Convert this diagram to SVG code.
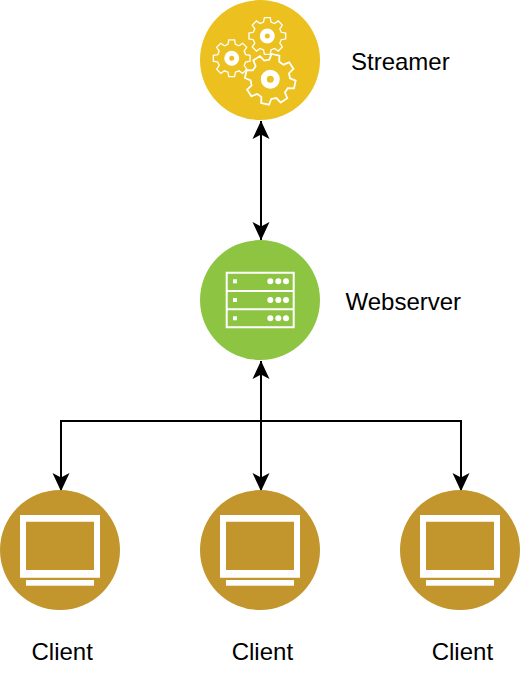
<svg xmlns="http://www.w3.org/2000/svg" width="522" height="674" viewBox="0 0 522 674">
<style>
.lbl{font-family:"Liberation Sans",Arial,sans-serif;font-size:24px;fill:#000}
.edge{fill:none;stroke:#000;stroke-width:2}
.gear{fill:none;stroke:#fff;stroke-width:1.4;stroke-linejoin:miter}
.ln{fill:none;stroke:#fff}
.w{fill:#fff}
</style>
<defs>
<marker id="ah" viewBox="0 0 20 20" refX="18.500" refY="10" markerWidth="20" markerHeight="20" markerUnits="userSpaceOnUse" orient="auto-start-reverse">
<path d="M0.500 1.500L18.800 10L0.500 18.500L5 10Z" fill="#000"/>
</marker>
<path id="gearShape" d="M19.75 3.13L14.97 4.01L13.42 7.75L16.18 11.76L11.76 16.18L7.75 13.42L4.01 14.97L3.13 19.75L-3.13 19.75L-4.01 14.97L-7.75 13.42L-11.76 16.18L-16.18 11.76L-13.42 7.75L-14.97 4.01L-19.75 3.13L-19.75 -3.13L-14.97 -4.01L-13.42 -7.75L-16.18 -11.76L-11.76 -16.18L-7.75 -13.42L-4.01 -14.97L-3.13 -19.75L3.13 -19.75L4.01 -14.97L7.75 -13.42L11.76 -16.18L16.18 -11.76L13.42 -7.75L14.97 -4.01L19.75 -3.13Z"/>
<g id="monitor">
<path class="w" fill-rule="evenodd" d="M-40 -35H40V27.7H-40ZM-34 -28.3V20H34V-28.3Z"/>
<rect class="w" x="-34" y="30" width="68" height="5.7"/>
</g>
<g id="row">
<rect class="w" x="233" y="-2" width="4" height="4"/>
<circle class="w" cx="270.3" r="3"/><circle class="w" cx="278.3" r="3"/><circle class="w" cx="286" r="3"/>
</g>
</defs>
<g id="connectors">
<path class="edge" d="M261 121V240" marker-start="url(#ah)" marker-end="url(#ah)"/>
<path class="edge" d="M261 361V491" marker-start="url(#ah)" marker-end="url(#ah)"/>
<path class="edge" d="M261 421H61V491" marker-end="url(#ah)"/>
<path class="edge" d="M261 421H461V491" marker-end="url(#ah)"/>
</g>
<g id="streamer">
<circle cx="260" cy="60" r="60" fill="#ebc01f"/>
<g transform="translate(231.7 58.3) scale(.93)"><use href="#gearShape" class="gear"/></g>
<g transform="translate(267.3 36) scale(.93)"><use href="#gearShape" class="gear"/></g>
<g transform="translate(270.3 79.3) rotate(12) scale(1.27)"><use href="#gearShape" class="gear"/></g>
<circle cx="231.7" cy="58.3" r="5" fill="none" stroke="#fff" stroke-width="5"/>
<circle cx="267.3" cy="36" r="5" fill="none" stroke="#fff" stroke-width="5"/>
<circle cx="270.3" cy="79.3" r="6.5" fill="none" stroke="#fff" stroke-width="6"/>
<text class="lbl" x="351" y="70">Streamer</text>
</g>
<g id="webserver">
<circle cx="260" cy="300" r="60" fill="#8dc442"/>
<path class="ln" stroke-width="2" d="M226.700 272.700H293.700V327.300H226.700ZM226.700 291H293.700M226.700 309.300H293.700"/>
<use href="#row" y="281.300"/>
<use href="#row" y="300"/>
<use href="#row" y="318.300"/>
<text class="lbl" x="345.500" y="310">Webserver</text>
</g>
<g id="client1">
<circle cx="60" cy="550" r="60" fill="#c2952d"/>
<use href="#monitor" x="60" y="550"/>
<text class="lbl" x="31.500" y="660">Client</text>
</g>
<g id="client2">
<circle cx="260" cy="550" r="60" fill="#c2952d"/>
<use href="#monitor" x="260" y="550"/>
<text class="lbl" x="231.700" y="660">Client</text>
</g>
<g id="client3">
<circle cx="460" cy="550" r="60" fill="#c2952d"/>
<use href="#monitor" x="460" y="550"/>
<text class="lbl" x="431.700" y="660">Client</text>
</g>
</svg>
